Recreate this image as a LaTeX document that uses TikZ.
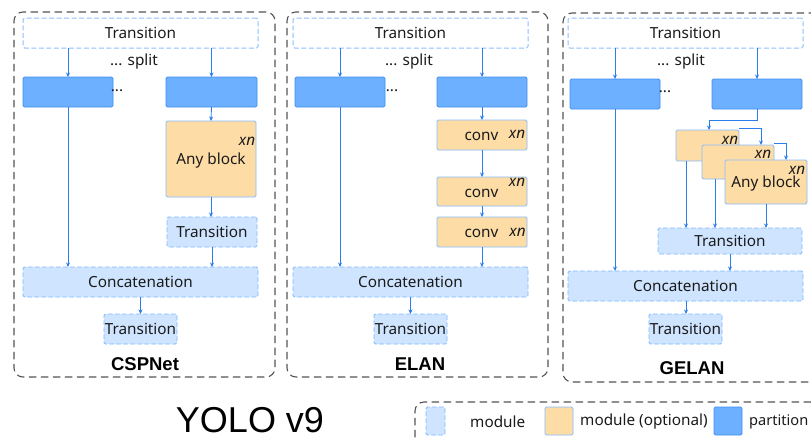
\documentclass[tikz,border=0pt]{standalone}
\usepackage{fontspec}
\setmainfont{Noto Sans}
\newfontfamily\titlefont{Liberation Sans}
\usetikzlibrary{arrows.meta}

\definecolor{panelgray}{HTML}{555555}
\definecolor{modfill}{HTML}{CFE4FF}
\definecolor{modline}{HTML}{7DB8FF}
\definecolor{topline}{HTML}{8DC0FF}
\definecolor{partfill}{HTML}{6CB0FF}
\definecolor{partline}{HTML}{3F8EF0}
\definecolor{optfill}{HTML}{FDDCA6}
\definecolor{optline}{HTML}{88BDFF}
\definecolor{arrowblue}{HTML}{2A7DEB}
\definecolor{ink}{HTML}{1A1A1A}

\tikzset{
  txt/.style={font=\fontsize{15.3}{17}\selectfont, text=ink},
  basebox/.style={inner sep=0pt, outer sep=0pt, rounded corners=1.5pt, line width=0.9pt, txt},
  panelbox/.style={draw=panelgray, dash pattern=on 7.5pt off 4.5pt, line width=1.1pt,
    rounded corners=9pt, inner sep=0pt, outer sep=0pt},
  modbox/.style={basebox, draw=modline, fill=modfill, dash pattern=on 4.5pt off 2.5pt},
  topbox/.style={basebox, draw=topline, fill=white, line width=1pt, dash pattern=on 5pt off 2.5pt},
  partbox/.style={basebox, draw=partline, fill=partfill},
  optbox/.style={basebox, draw=optline, fill=optfill},
  arr/.style={draw=arrowblue, line width=0.85pt, -{Stealth[length=4.5pt,width=4pt]}},
  xnlabel/.style={inner sep=0pt, font=\fontsize{15.3}{17}\selectfont\itshape, text=ink},
  plain/.style={inner sep=0pt, txt},
  panellabel/.style={inner sep=0pt, font=\titlefont\fontsize{18.5}{20}\selectfont\bfseries, text=black},
}

\begin{document}
\begin{tikzpicture}[x=1pt, y=-1pt]
\useasboundingbox (0,0) rectangle (811,439);
\fill[white] (0,0) rectangle (811,439);
\clip (0,0) rectangle (811,439);

% ---------------- CSPNet ----------------
\node[panelbox, minimum width=261pt, minimum height=365pt] (cspPanel) at (144.5,194.5) {};
\node[topbox, minimum width=235pt, minimum height=30pt] (cspTop) at (140.5,33) {Transition};
\node[plain] (cspSplit) at (134,62) {... split};
\node[partbox, minimum width=90pt, minimum height=30pt] (cspPL) at (68,92) {};
\node[partbox, minimum width=91pt, minimum height=30pt] (cspPR) at (211.5,92) {};
\node[plain, anchor=base] (cspDots) at (117,91) {...};
\node[optbox, minimum width=90pt, minimum height=76pt] (cspAny) at (211,159) {};
\node[plain] (cspAnyText) at (211,161) {Any block};
\node[xnlabel] (cspXn) at (247,141) {xn};
\node[modbox, minimum width=90pt, minimum height=30pt] (cspMid) at (212,232) {Transition};
\node[modbox, minimum width=235pt, minimum height=30pt] (cspCat) at (140.5,282) {Concatenation};
\node[modbox, minimum width=73pt, minimum height=30pt] (cspOut) at (140.5,329) {Transition};
\node[panellabel] (cspName) at (145,364) {CSPNet};

\draw[arr] (cspPL.north |- cspTop.south) -- (cspPL.north);
\draw[arr] (cspPR.north |- cspTop.south) -- (cspPR.north);
\draw[arr] (cspPR.south) -- (cspAny.north);
\draw[arr] (cspAny.south) -- (cspAny.south |- cspMid.north);
\draw[arr] (cspMid.south) -- (cspMid.south |- cspCat.north);
\draw[arr] (cspPL.south) -- (cspPL.south |- cspCat.north);
\draw[arr] (cspCat.south) -- (cspOut.north);

% ---------------- ELAN ----------------
\node[panelbox, minimum width=261pt, minimum height=365pt] (elanPanel) at (417.5,194.5) {};
\node[topbox, minimum width=235pt, minimum height=30pt] (elanTop) at (410.5,33) {Transition};
\node[plain] (elanSplit) at (409,62) {... split};
\node[partbox, minimum width=90pt, minimum height=30pt] (elanPL) at (340,92) {};
\node[partbox, minimum width=90pt, minimum height=30pt] (elanPR) at (482,92) {};
\node[plain, anchor=base] (elanDots) at (392,91) {...};
\node[optbox, minimum width=90pt, minimum height=30pt] (elanC1) at (482,135) {};
\node[optbox, minimum width=90pt, minimum height=29pt] (elanC2) at (482,191.5) {};
\node[optbox, minimum width=90pt, minimum height=30pt] (elanC3) at (482,232) {};
\node[plain] (elanC1t) at (481.5,136) {conv};
\node[xnlabel] (elanX1) at (517,134) {xn};
\node[plain] (elanC2t) at (481.5,193) {conv};
\node[xnlabel] (elanX2) at (517,182) {xn};
\node[plain] (elanC3t) at (481.5,233) {conv};
\node[xnlabel] (elanX3) at (517.5,232) {xn};
\node[modbox, minimum width=235pt, minimum height=30pt] (elanCat) at (410.5,282) {Concatenation};
\node[modbox, minimum width=73pt, minimum height=30pt] (elanOut) at (410.5,329) {Transition};
\node[panellabel] (elanName) at (420,364) {ELAN};

\draw[arr] (elanPL.north |- elanTop.south) -- (elanPL.north);
\draw[arr] (elanPR.north |- elanTop.south) -- (elanPR.north);
\draw[arr] (elanPR.south) -- (elanC1.north);
\draw[arr] (elanC1.south) -- (elanC2.north);
\draw[arr] (elanC2.south) -- (elanC3.north);
\draw[arr] (elanC3.south) -- (elanC3.south |- elanCat.north);
\draw[arr] (elanPL.south) -- (elanPL.south |- elanCat.north);
\draw[arr] (elanCat.south) -- (elanOut.north);

% ---------------- GELAN ----------------
\node[panelbox, minimum width=262pt, minimum height=369pt] (gelPanel) at (694,197.5) {};
\node[topbox, minimum width=235pt, minimum height=30pt] (gelTop) at (685.5,33) {Transition};
\node[plain] (gelSplit) at (681,62) {... split};
\node[partbox, minimum width=90pt, minimum height=30pt] (gelPL) at (615,94) {};
\node[partbox, minimum width=90pt, minimum height=30pt] (gelPR) at (757,94) {};
\node[plain, anchor=base] (gelDots) at (665,92) {...};
% stacked optional blocks
\node[optbox, minimum width=63pt, minimum height=31pt] (gelB1) at (707.5,145.5) {};
\node[xnlabel] (gelX1) at (730,140) {xn};
\node[optbox, minimum width=72pt, minimum height=34pt] (gelB2) at (738,162) {};
\node[xnlabel] (gelX2) at (763,154) {xn};
\node[optbox, minimum width=82pt, minimum height=44pt] (gelB3) at (766,182) {};
\node[xnlabel] (gelX3) at (797,170) {xn};
\node[plain] (gelAny) at (766,184) {Any block};
\node[modbox, minimum width=144pt, minimum height=26pt] (gelMid) at (730,241) {Transition};
\node[modbox, minimum width=235pt, minimum height=30pt] (gelCat) at (685.5,286) {Concatenation};
\node[modbox, minimum width=73pt, minimum height=30pt] (gelOut) at (685.5,329) {Transition};
\node[panellabel] (gelName) at (692,368) {GELAN};

\draw[arr] (gelPL.north |- gelTop.south) -- (gelPL.north);
\draw[arr] (gelPR.north |- gelTop.south) -- (gelPR.north);
\draw[arr] (gelPR.south) -- ++(0,11) -| ([xshift=1.5pt]gelB1.north);
\draw[arr] ([yshift=2pt]gelB1.north east) -| ([xshift=23pt]gelB2.north);
\draw[arr] ([yshift=2pt]gelB2.north east) -| ([xshift=20pt]gelB3.north);
\draw[arr] ([xshift=-21.5pt]gelB1.south) -- ([xshift=-21.5pt]gelB1.south |- gelMid.north);
\draw[arr] ([xshift=-23pt]gelB2.south) -- ([xshift=-23pt]gelB2.south |- gelMid.north);
\draw[arr] (gelB3.south) -- (gelB3.south |- gelMid.north);
\draw[arr] (gelMid.south) -- (gelMid.south |- gelCat.north);
\draw[arr] (gelPL.south) -- (gelPL.south |- gelCat.north);
\draw[arr] ([xshift=0.5pt]gelCat.south) -- ([xshift=0.5pt]gelOut.north);

% ---------------- title ----------------
\node[inner sep=0pt, anchor=base, text depth=0pt, font=\titlefont\fontsize{36}{40}\selectfont, text=black]
  (title) at (250,432) {YOLO v9};

% ---------------- legend ----------------
\node[panelbox, minimum width=405pt, minimum height=50pt] (legendBox) at (617.5,427) {};
\node[modbox, minimum width=19pt, minimum height=28pt] (legMod) at (435.5,421) {};
\node[plain, anchor=west] (legModT) at (470,422) {module};
\node[optbox, minimum width=28pt, minimum height=28pt] (legOpt) at (559,421) {};
\node[plain, anchor=west] (legOptT) at (580,422) {module (optional)};
\node[partbox, minimum width=28pt, minimum height=28pt] (legPart) at (728,421) {};
\node[plain, anchor=west, font=\fontsize{14.6}{17}\selectfont] (legPartT) at (749,422) {partition};
\end{tikzpicture}
\end{document}
